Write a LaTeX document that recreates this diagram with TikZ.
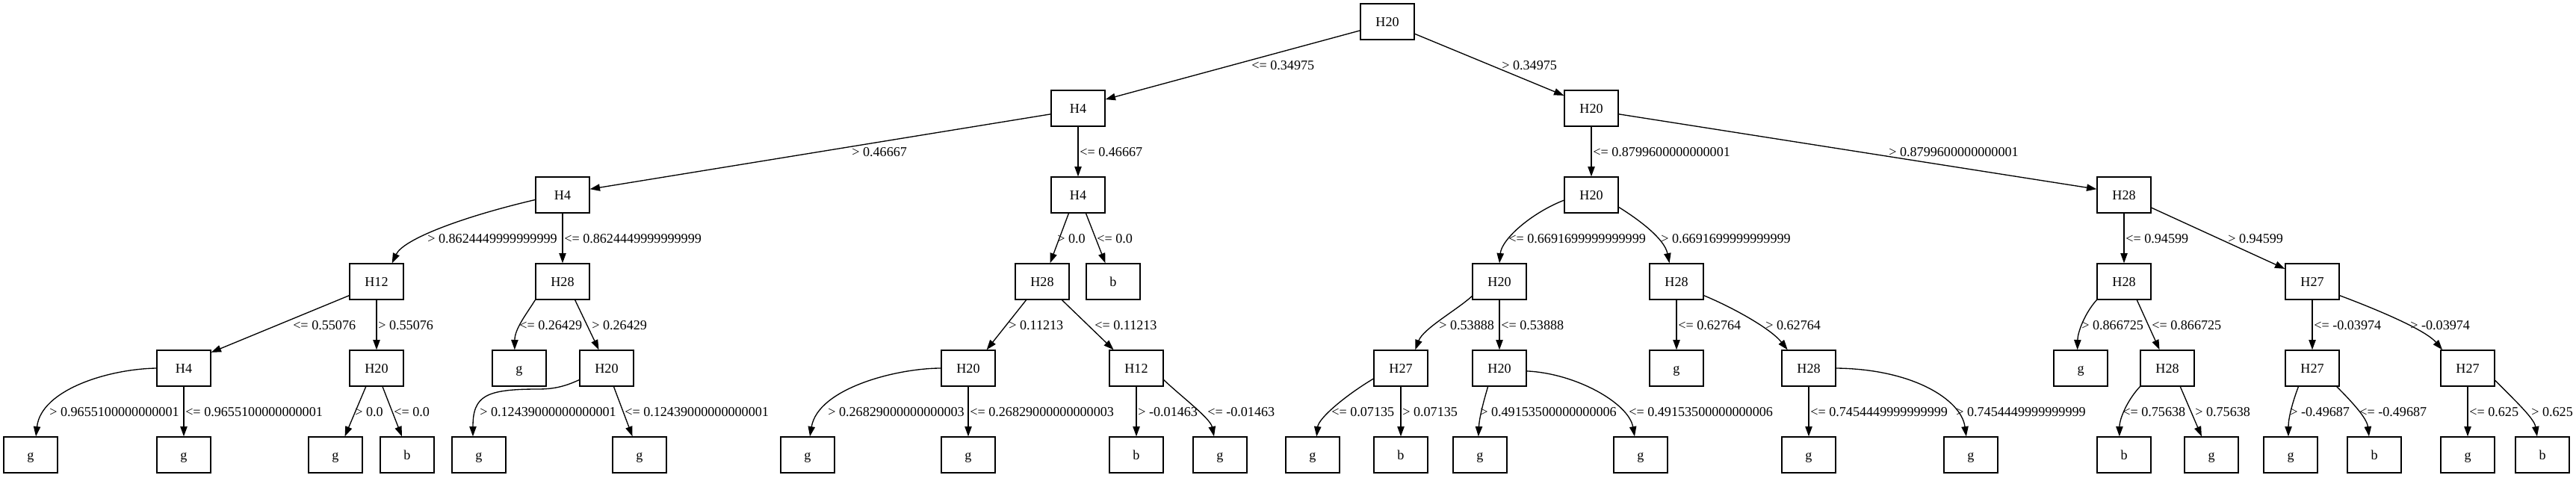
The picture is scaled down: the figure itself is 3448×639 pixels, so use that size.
\documentclass[tikz,border=0pt]{standalone}
\usepackage{fontspec}
\setmainfont{Liberation Serif}
\usepackage{tikz}
\usetikzlibrary{arrows.meta}
\tikzstyle{split} = [draw, line width=1pt, minimum width=54pt, minimum height=36pt, inner sep=0pt, text height=9.2pt, text depth=0pt, font=\fontsize{13.6}{16}\selectfont]
\tikzstyle{cut} = [anchor=west, inner sep=0pt, text height=9.2pt, text depth=0pt, font=\fontsize{13.6}{16}\selectfont]
\tikzstyle{branch} = [line width=1pt, -{Triangle[length=10pt,width=7pt]}]

\begin{document}
\begin{tikzpicture}[x=0.75pt, y=-0.75pt]
        \useasboundingbox (0,0) rectangle (3448,639);

        % Level 0 and 1
        \node[split] (r) at (1857,29) {H20};
        \node[split] (rL) at (1443,145) {H4};
        \node[split] (rR) at (2130,145) {H20};

        % Level 2
        \node[split] (rLL) at (753,261) {H4};
        \node[split] (rLR) at (1443,261) {H4};
        \node[split] (rRL) at (2130,261) {H20};
        \node[split] (rRR) at (2843,261) {H28};

        % Level 3
        \node[split] (rLLL) at (504,377) {H12};
        \node[split] (rLLR) at (753,377) {H28};
        \node[split] (rLRL) at (1395,377) {H28};
        \node[split] (rLRR) at (1490,377) {b};
        \node[split] (rRLL) at (2007,377) {H20};
        \node[split] (rRLR) at (2244,377) {H28};
        \node[split] (rRRL) at (2843,377) {H28};
        \node[split] (rRRR) at (3095,377) {H27};

        % Level 4
        \node[split] (rLLLL) at (246,493) {H4};
        \node[split] (rLLLR) at (504,493) {H20};
        \node[split] (rLLRL) at (695,493) {g};
        \node[split] (rLLRR) at (812,493) {H20};
        \node[split] (rLRLL) at (1296,493) {H20};
        \node[split] (rLRLR) at (1521,493) {H12};
        \node[split] (rRLLL) at (1875,493) {H27};
        \node[split] (rRLLR) at (2007,493) {H20};
        \node[split] (rRLRL) at (2244,493) {g};
        \node[split] (rRLRR) at (2421,493) {H28};
        \node[split] (rRRLL) at (2785,493) {g};
        \node[split] (rRRLR) at (2901,493) {H28};
        \node[split] (rRRRL) at (3095,493) {H27};
        \node[split] (rRRRR) at (3303,493) {H27};

        % Level 5 (leaves)
        \node[split] (rLLLLL) at (41,609) {g};
        \node[split] (rLLLLR) at (246,609) {g};
        \node[split] (rLLLRL) at (449,609) {g};
        \node[split] (rLLLRR) at (545,609) {b};
        \node[split] (rLLRRL) at (641,609) {g};
        \node[split] (rLLRRR) at (856,609) {g};
        \node[split] (rLRLLL) at (1081,609) {g};
        \node[split] (rLRLLR) at (1296,609) {g};
        \node[split] (rLRLRL) at (1521,609) {b};
        \node[split] (rLRLRR) at (1633,609) {g};
        \node[split] (rRLLLL) at (1757,609) {g};
        \node[split] (rRLLLR) at (1875,609) {b};
        \node[split] (rRLLRL) at (1981,609) {g};
        \node[split] (rRLLRR) at (2196,609) {g};
        \node[split] (rRLRRL) at (2421,609) {g};
        \node[split] (rRLRRR) at (2638,609) {g};
        \node[split] (rRRLRL) at (2843,609) {b};
        \node[split] (rRRLRR) at (2960,609) {g};
        \node[split] (rRRRLL) at (3066,609) {g};
        \node[split] (rRRRLR) at (3178,609) {b};
        \node[split] (rRRRRL) at (3303,609) {g};
        \node[split] (rRRRRR) at (3403,609) {b};

        % Branches, level 0 to 2
        \draw[branch] (r.198) -- (rL.18);
        \draw[branch] (r.336) -- (rR.155);
        \draw[branch] (rL.192) -- (rLL.12);
        \draw[branch] (rL) -- (rLR);
        \draw[branch] (rR) -- (rRL);
        \draw[branch] (rR.348) -- (rRR.168);

        % Branches, level 2 to 3
        \draw[branch] (rLL.190) .. controls (620,290) and (540,320) .. (rLLL.50);
        \draw[branch] (rLL) -- (rLLR);
        \draw[branch] (rLR.243) -- (rLRL.67);
        \draw[branch] (rLR.293) -- (rLRR.113);
        \draw[branch] (rRL.191) .. controls (2050,285) and (2010,320) .. (rRLL.north);
        \draw[branch] (rRL.336) .. controls (2195,295) and (2228,320) .. (rRLR.111);
        \draw[branch] (rRR) -- (rRRL);
        \draw[branch] (rRR.335) -- (rRRR.155);

        % Branches, level 3 to 4
        \draw[branch] (rLLL.207) -- (rLLLL.30);
        \draw[branch] (rLLL) -- (rLLLR);
        \draw[branch] (rLLR.south west) .. controls (705,420) and (689,440) .. (rLLRL.104);
        \draw[branch] (rLLR.304) -- (rLLRR.113);
        \draw[branch] (rLRL.229) -- (rLRLL.45);
        \draw[branch] (rLRL.317) -- (rLRLR.141);
        \draw[branch] (rRLL.208) .. controls (1950,415) and (1905,440) .. (rRLLL.52);
        \draw[branch] (rRLL) -- (rRLLR);
        \draw[branch] (rRLR) -- (rRLRL);
        \draw[branch] (rRLR.333) .. controls (2320,412) and (2370,440) .. (rRLRR.139);
        \draw[branch] (rRRL.south west) .. controls (2790,420) and (2781,445) .. (rRRLL.100);
        \draw[branch] (rRRL.305) -- (rRRLR.113);
        \draw[branch] (rRRR) -- (rRRRL);
        \draw[branch] (rRRR.333) .. controls (3170,410) and (3245,440) .. (rRRRR.144);

        % Branches, level 4 to 5
        \draw[branch] (rLLLL.west) .. controls (145,494) and (55,522) .. (rLLLLL.74);
        \draw[branch] (rLLLL) -- (rLLLLR);
        \draw[branch] (rLLLR.240) -- (rLLLRL.63);
        \draw[branch] (rLLLR.288) -- (rLLLRR.106);
        \draw[branch] (rLLRR.203) .. controls (755,518) and (740,521) .. (720,521)
                .. controls (650,521) and (633,530) .. (rLLRRL.108);
        \draw[branch] (rLLRR.291) -- (rLLRRR.111);
        \draw[branch] (rLRLL.west) .. controls (1200,493) and (1095,520) .. (rLRLLL.83);
        \draw[branch] (rLRLL) -- (rLRLLR);
        \draw[branch] (rLRLR) -- (rLRLRL);
        \draw[branch] (rLRLR.337) .. controls (1580,530) and (1620,560) .. (rLRLRR.108);
        \draw[branch] (rRLLL.201) .. controls (1800,530) and (1765,560) .. (rRLLLL.78);
        \draw[branch] (rRLLL) -- (rRLLLR);
        \draw[branch] (rRLLR.238) .. controls (1985,540) and (1980,560) .. (rRLLRL.95);
        \draw[branch] (rRLLR.354) .. controls (2110,500) and (2180,540) .. (rRLLRR.108);
        \draw[branch] (rRLRR) -- (rRLRRL);
        \draw[branch] (rRLRR.east) .. controls (2560,494) and (2625,535) .. (rRLRRR.104);
        \draw[branch] (rRRLR.south west) .. controls (2848,535) and (2837,560) .. (rRRLRL.104);
        \draw[branch] (rRRLR.305) -- (rRRLRR.118);
        \draw[branch] (rRRRL.233) .. controls (3068,540) and (3063,560) .. (rRRRLL.97);
        \draw[branch] (rRRRL.323) .. controls (3150,540) and (3168,560) .. (rRRRLR.106);
        \draw[branch] (rRRRR) -- (rRRRRL);
        \draw[branch] (rRRRR.336) .. controls (3365,535) and (3392,560) .. (rRRRRR.106);

        % Thresholds
        \node[cut] (qrL) at (1675,87) {<= 0.34975};
        \node[cut] (qrR) at (2010,87) {> 0.34975};

        \node[cut] (qrLL) at (1140,203) {> 0.46667};
        \node[cut] (qrLR) at (1445,203) {<= 0.46667};
        \node[cut] (qrRL) at (2132,203) {<= 0.8799600000000001};
        \node[cut] (qrRR) at (2528,203) {> 0.8799600000000001};

        \node[cut] (qrLLL) at (572,319) {> 0.8624449999999999};
        \node[cut] (qrLLR) at (755,319) {<= 0.8624449999999999};
        \node[cut] (qrLRL) at (1415,319) {> 0.0};
        \node[cut] (qrLRR) at (1468,319) {<= 0.0};
        \node[cut] (qrRLL) at (2019,319) {<= 0.6691699999999999};
        \node[cut] (qrRLR) at (2223,319) {> 0.6691699999999999};
        \node[cut] (qrRRL) at (2845,319) {<= 0.94599};
        \node[cut] (qrRRR) at (2982,319) {> 0.94599};

        \node[cut] (qrLLLL) at (392,435) {<= 0.55076};
        \node[cut] (qrLLLR) at (506,435) {> 0.55076};
        \node[cut] (qrLLRL) at (695,435) {<= 0.26429};
        \node[cut] (qrLLRR) at (792,435) {> 0.26429};
        \node[cut] (qrLRLL) at (1350,435) {> 0.11213};
        \node[cut] (qrLRLR) at (1465,435) {<= 0.11213};
        \node[cut] (qrRLLL) at (1926,435) {> 0.53888};
        \node[cut] (qrRLLR) at (2009,435) {<= 0.53888};
        \node[cut] (qrRLRL) at (2246,435) {<= 0.62764};
        \node[cut] (qrRLRR) at (2363,435) {> 0.62764};
        \node[cut] (qrRRLL) at (2786,435) {> 0.866725};
        \node[cut] (qrRRLR) at (2880,435) {<= 0.866725};
        \node[cut] (qrRRRL) at (3097,435) {<= -0.03974};
        \node[cut] (qrRRRR) at (3226,435) {> -0.03974};

        \node[cut] (qrLLLLL) at (66,551) {> 0.9655100000000001};
        \node[cut] (qrLLLLR) at (248,551) {<= 0.9655100000000001};
        \node[cut] (qrLLLRL) at (475,551) {> 0.0};
        \node[cut] (qrLLLRR) at (527,551) {<= 0.0};
        \node[cut] (qrLLRRL) at (642,551) {> 0.12439000000000001};
        \node[cut] (qrLLRRR) at (836,551) {<= 0.12439000000000001};
        \node[cut] (qrLRLLL) at (1108,551) {> 0.26829000000000003};
        \node[cut] (qrLRLLR) at (1298,551) {<= 0.26829000000000003};
        \node[cut] (qrLRLRL) at (1523,551) {> -0.01463};
        \node[cut] (qrLRLRR) at (1616,551) {<= -0.01463};
        \node[cut] (qrRLLLL) at (1782,551) {<= 0.07135};
        \node[cut] (qrRLLLR) at (1877,551) {> 0.07135};
        \node[cut] (qrRLLRL) at (1981,551) {> 0.49153500000000006};
        \node[cut] (qrRLLRR) at (2180,551) {<= 0.49153500000000006};
        \node[cut] (qrRLRRL) at (2423,551) {<= 0.7454449999999999};
        \node[cut] (qrRLRRR) at (2618,551) {> 0.7454449999999999};
        \node[cut] (qrRRLRL) at (2841,551) {<= 0.75638};
        \node[cut] (qrRRLRR) at (2938,551) {> 0.75638};
        \node[cut] (qrRRRLL) at (3065,551) {> -0.49687};
        \node[cut] (qrRRRLR) at (3158,551) {<= -0.49687};
        \node[cut] (qrRRRRL) at (3305,551) {<= 0.625};
        \node[cut] (qrRRRRR) at (3388,551) {> 0.625};

      \end{tikzpicture}
\end{document}
